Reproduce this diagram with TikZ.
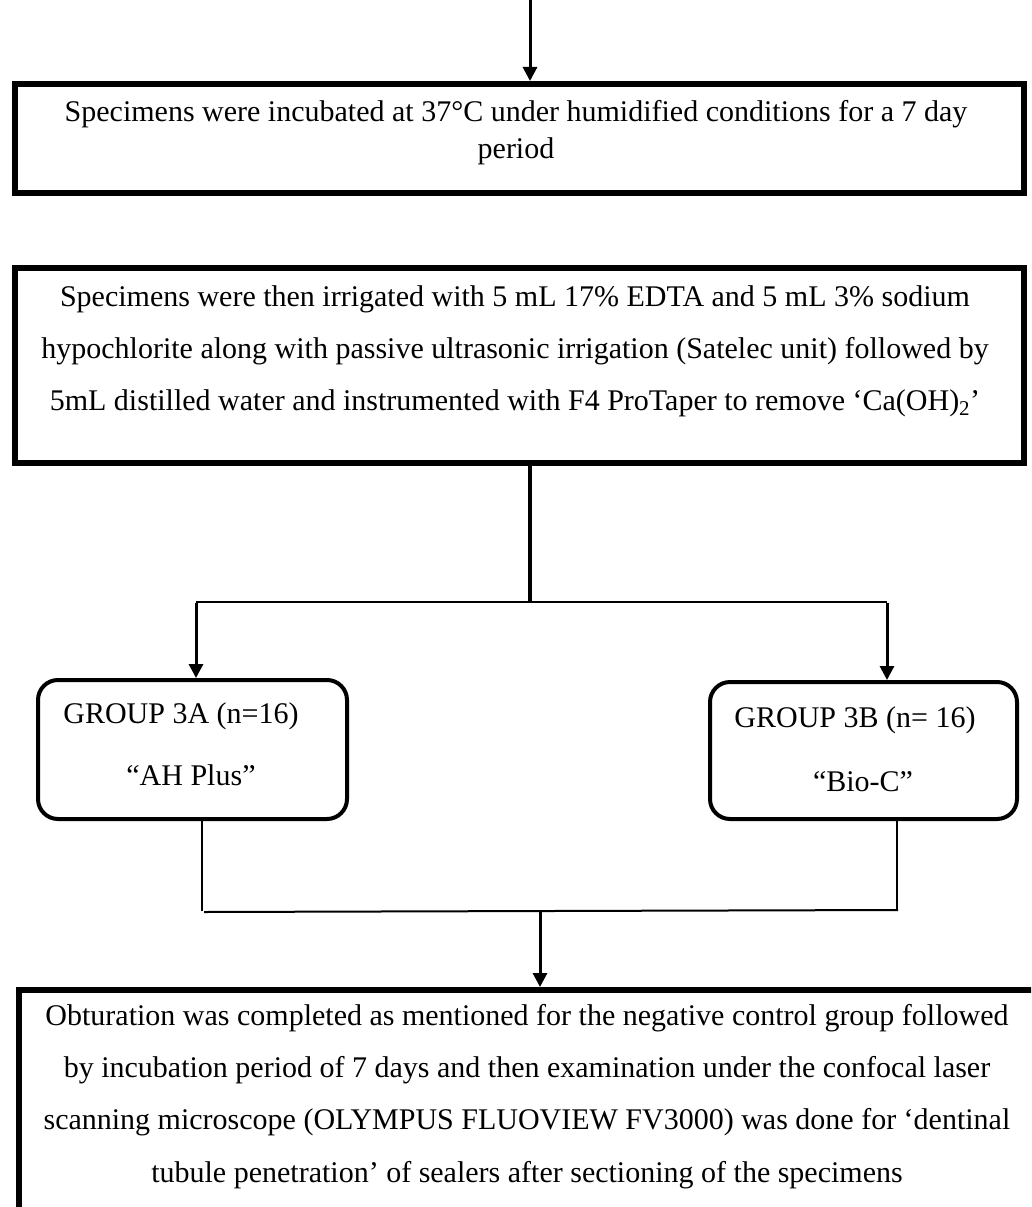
\documentclass[tikz,border=0pt]{standalone}
\usepackage{fontspec}
\setmainfont{Liberation Serif}
\usetikzlibrary{arrows.meta}
\tikzset{
  sqbox/.style={draw, line width=6pt, inner sep=0pt, anchor=north west},
  grpbox/.style={draw, line width=4pt, rounded corners=20pt, inner sep=0pt, anchor=north west},
  txt/.style={font=\fontsize{30}{36}\selectfont, inner sep=0pt, anchor=base},
  arr/.style={line width=3pt, -{Triangle[width=14pt,length=14pt]}},
  thickline/.style={line width=4.5pt},
  medline/.style={line width=2.5pt},
  thinline/.style={line width=2pt}
}
\begin{document}
\begin{tikzpicture}[x=1pt,y=-1pt]
\useasboundingbox (0,0) rectangle (1031,1207);
\clip (0,0) rectangle (1031,1207);
\fill[white] (0,0) rectangle (1031,1207);

% Box 1
\node[sqbox, minimum width=1009pt, minimum height=109pt] (b1) at (12,81) {};
\node[txt] (t1a) at (516,121) {Specimens were incubated at 37°C under humidified conditions for a 7 day};
\node[txt] (t1b) at (516,158) {period};

% Box 2
\node[sqbox, minimum width=1009pt, minimum height=195pt] (b2) at (12,265) {};
\node[txt] (t2a) at (515,306) {Specimens were then irrigated with 5 mL 17\% EDTA and 5 mL 3\% sodium};
\node[txt] (t2b) at (515,358) {hypochlorite along with passive ultrasonic irrigation (Satelec unit) followed by};
\node[txt] (t2c) at (515,410) {5mL distilled water and instrumented with F4 ProTaper to remove ‘Ca(OH)\textsubscript{2}’};

% Group boxes
\node[grpbox, minimum width=309pt, minimum height=139pt] (b3a) at (36,678) {};
\node[txt] (t3a1) at (181,723) {GROUP 3A (n=16)};
\node[txt] (t3a2) at (191,785) {“AH Plus”};
\node[grpbox, minimum width=307pt, minimum height=137pt] (b3b) at (708,680) {};
\node[txt] (t3b1) at (855,727) {GROUP 3B (n= 16)};
\node[txt] (t3b2) at (863,791) {“Bio-C”};

% Box 4
\node[sqbox, minimum width=1022pt, minimum height=222pt] (b4) at (16,987) {};
\node[txt] (t4a) at (527,1025) {Obturation was completed as mentioned for the negative control group followed};
\node[txt] (t4b) at (527,1077) {by incubation period of 7 days and then examination under the confocal laser};
\node[txt] (t4c) at (527,1129) {scanning microscope (OLYMPUS FLUOVIEW FV3000) was done for ‘dentinal};
\node[txt] (t4d) at (527,1182) {tubule penetration’ of sealers after sectioning of the specimens};

% Connector coordinates
\coordinate (start) at (530,0);
\coordinate (j1) at (530,602);
\coordinate (jl) at (196,602);
\coordinate (jr) at (887,602);
\coordinate (ja) at (202,911);
\coordinate (jb) at (897,910);
\coordinate (jm) at (540,910);

% Connectors
\draw[arr] (start) -- (b1.north -| start);
\draw[thickline] (b2.south -| j1) -- (j1);
\draw[medline] (jl) -- (jr);
\draw[arr] ([yshift=-1pt]jl) -- (b3a.north -| jl);
\draw[arr] ([yshift=-1pt]jr) -- (b3b.north -| jr);
\draw[thinline] (b3a.south -| ja) -- (ja);
\draw[thinline] (b3b.south -| jb) -- (jb);
\draw[thinline] ([xshift=2pt,yshift=-1pt]ja) -- ([xshift=1pt]jb);
\draw[arr] (jm) -- (b4.north -| jm);
\end{tikzpicture}
\end{document}
